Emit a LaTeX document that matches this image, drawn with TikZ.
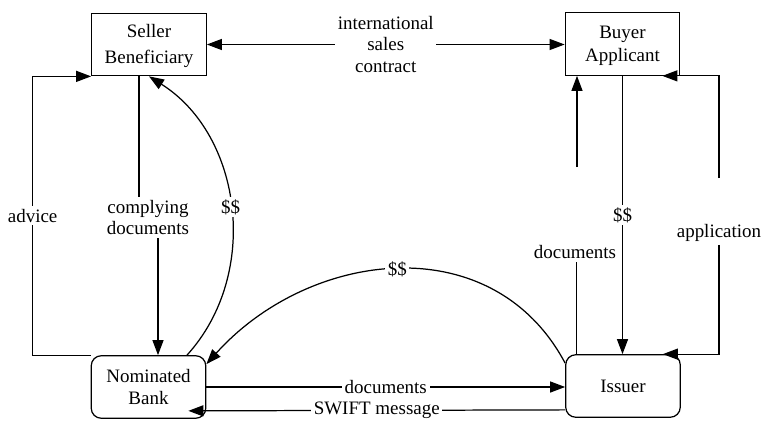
\documentclass[tikz,border=0pt]{standalone}
\usepackage{fontspec}
\setmainfont{Liberation Serif}
\usetikzlibrary{arrows.meta}
\usetikzlibrary{positioning}
\usetikzlibrary{calc}

\begin{document}
\begin{tikzpicture}[line width=0.7pt, >={Triangle[length=0.3cm,width=0.22cm]},
  every node/.style={font=\fontsize{10.8}{12.5}\selectfont},
  party/.style={draw, minimum width=2.29cm, minimum height=1.25cm, align=center, inner sep=1pt},
  bank/.style={party, rounded corners=0.2cm},
  lbl/.style={fill=white, inner sep=1.5pt, align=center}]

\useasboundingbox (0,0) rectangle (15.26,8.56);

% Parties
  \node[party] (sel) at (2.98,7.67) {\rule{0pt}{9pt}Seller\\[2pt]Beneficiary};
  \node[party] (buy) at (12.45,7.68) {\rule{0pt}{9pt}Buyer\\[1pt]Applicant};
  \node[bank] (nom) at (2.97,0.82) {Nominated\\Bank};
  \node[bank] (iss) at (12.46,0.84) {Issuer};

% Contract
  \draw[<->] (sel.east) -- (sel.east -| buy.west) node[lbl,midway] (contract) {international\\sales\\contract};

% Seller side
  \draw[->] (nom.north west) -- ++(-1.16,0) |- (sel.south west) node[lbl,pos=0.25] (advice) {advice};
  \node[align=center, inner sep=1.5pt] (cdoc) at (2.96,4.21) {complying\\documents};
  \draw ([xshift=-0.2cm]sel.south) -- ([xshift=-0.2cm]sel.south |- cdoc.north);
  \draw[->] ([xshift=0.2cm]cdoc.south) -- ([xshift=0.2cm]cdoc.south |- nom.north);
  \draw[->] ([xshift=0.77cm]nom.north) to[bend right=50] node[lbl] (dolA) {\$\$} (sel.south);

% Banks
  \draw[->] ([yshift=-0.18cm]iss.north west) to[out=118, in=48, looseness=1.1] node[lbl] (dolB) {\$\$} ([yshift=-0.18cm]nom.north east);
  \draw[->] (nom.east) -- (nom.east -| iss.west) node[lbl,midway] (docB) {documents};
  \draw[->] ([yshift=0.16cm]iss.south west) -- ([xshift=-0.36cm,yshift=0.16cm]nom.south east) node[lbl,midway] (swift) {SWIFT message};

% Buyer side
  \node[inner sep=1.5pt] (docR) at (11.5,3.52) {documents};
  \coordinate (docTop) at (11.54,5.22);
  \draw ([xshift=0.22cm]iss.north west) -- ([xshift=0.22cm]iss.north west |- docR.south);
  \draw[->] (docTop) -- (docTop |- buy.south);
  \draw[->] (buy.south) -- (buy.south |- iss.north) node[lbl,midway] (dolC) {\$\$};
  \node[inner sep=1.5pt] (appl) at (14.38,3.9) {application};
  \coordinate (applTop) at (14.38,5.0);
  \draw[->] (applTop) |- ([xshift=-0.36cm]buy.south east);
  \draw[->] (appl.south) |- ([xshift=-0.36cm]iss.north east);

\end{tikzpicture}
\end{document}
